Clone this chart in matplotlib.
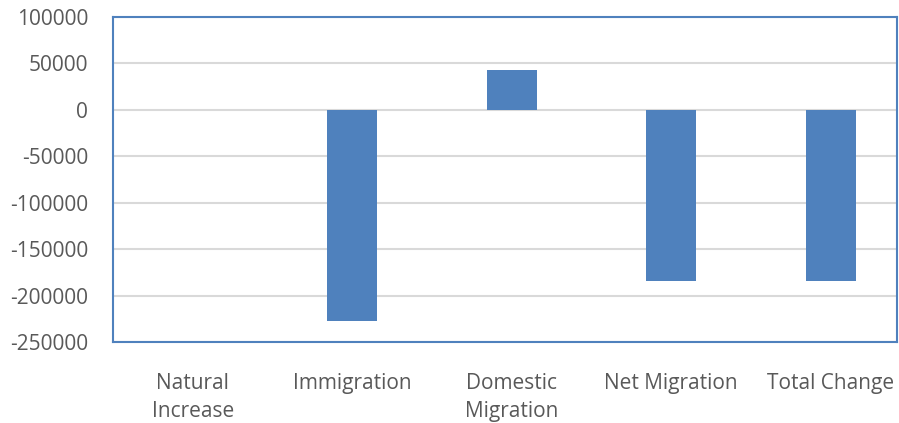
import matplotlib.pyplot as plt

plt.rcParams['font.family'] = ['Open Sans', 'DejaVu Sans']

# data
categories = ['Natural\nIncrease', 'Immigration', 'Domestic\nMigration', 'Net Migration', 'Total Change']
values = [0, -227000, 42400, -184400, -184000]
yticks = [-250000, -200000, -150000, -100000, -50000, 0, 50000, 100000]

bar_color = '#4F81BD'
frame_color = '#4F81BD'
text_color = '#595959'

fig = plt.figure(figsize=(8.99, 4.23), dpi=100)
ax = fig.add_axes([113 / 899, 1 - 342 / 423, 784 / 899, 325 / 423])

x = range(len(categories))
ax.bar(x, values, width=0.315, color=bar_color, zorder=3)

# the original chart is clipped on the right, last category slot is cut short
ax.set_xlim(-0.5, 4.415)
ax.set_ylim(-250000, 100000)
ax.set_yticks(yticks)
ax.set_yticklabels([str(v) for v in yticks])
ax.set_xticks(list(x))
ax.set_xticklabels(categories, linespacing=1.45)

ax.grid(True, axis='y', color='#D9D9D9', linewidth=1.5, zorder=0)
for s in ax.spines.values():
    s.set_color(frame_color)
    s.set_linewidth(1.5)

ax.tick_params(axis='both', length=0, labelsize=15, colors=text_color)
ax.tick_params(axis='y', pad=18)
ax.tick_params(axis='x', pad=22.5)

plt.savefig('out.png', dpi=100)
